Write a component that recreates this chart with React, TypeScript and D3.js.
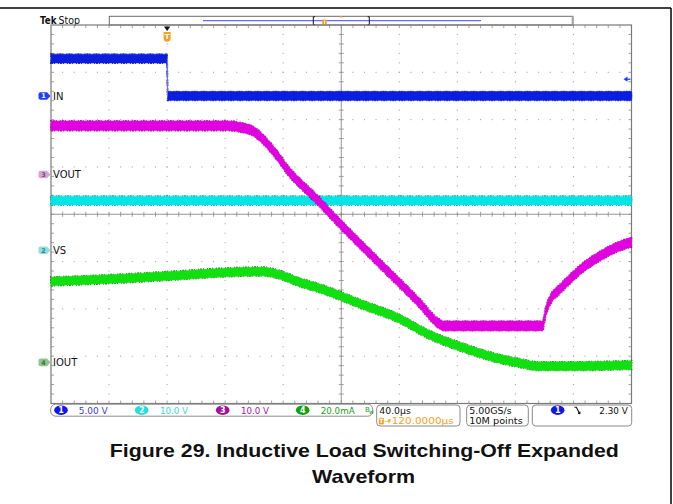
import React from 'react';
import * as d3 from 'd3';

const W = 673;
const H = 504;

// ---------- Axis / channel setup ----------
const timeDomainUs = [-80, 320]; // 40 µs/div, trigger at 0
const divDomain = [-4, 4];
const channelIds = ['1', '2', '3', '4'];
const channelLabels = ['IN', 'VS', 'VOUT', 'IOUT'];
const channelPerDiv = [5, 10, 10, 20];
const channelOffsetDiv = [2.5, -0.76, 0.84, -3.13];
const channelScaleText = ['5.00 V', '10.0 V', '10.0 V', '20.0mA'];
const triggerMarkerLevel = 1.77; // CH1 volts where the right-hand level arrow sits

// ---------- Waveform data ----------
// CH1 IN (V)
const inTime = [-80, 0, 0.4, 320];
const inVolts = [3.95, 3.95, 0, 0];
// CH2 VS (V)
const vsTime = [-80, 320];
const vsVolts = [10.5, 10.5];
// CH3 VOUT (V)
const voutTime = [-80, 42, 51.5, 59.1, 65.3, 75.6, 84.5, 91.4, 103.1, 114.1, 146.5, 174.0, 186.4, 190.6, 258.7, 260.8, 264.2, 270.4, 277.3, 287.6, 298.0, 308.3, 320];
const voutVolts = [10.3, 10.3, 9.9, 9.2, 7.7, 4.1, 0.4, -1.8, -5.2, -8.8, -18.8, -27.2, -31.3, -32.0, -32.0, -29.1, -26.4, -24.3, -22.2, -19.4, -17.3, -15.6, -14.3];
// CH4 IOUT (mA)
const ioutTime = [-80, -46.3, 0, 39.8, 65.3, 77.7, 91.4, 103.1, 112.1, 134.8, 158.2, 180.9, 203.6, 227.1, 246.3, 254.6, 284.2, 320];
const ioutMA = [34.2, 35.0, 36.5, 38.0, 38.4, 37.0, 33.8, 31.7, 29.8, 24.3, 19.0, 11.6, 6.3, 1.8, -0.7, -1.6, -1.6, -1.1];

// ---------- Status text ----------
const timebaseText = '40.0µs';
const triggerDelayText = '120.0000µs';
const sampleRateText = '5.00GS/s';
const recordText = '10M points';
const triggerLevelText = '2.30 V';
const captionLine1 = 'Figure 29. Inductive Load Switching-Off Expanded';
const captionLine2 = 'Waveform';

// ---------- Styles ----------
const traceColors = ['#0b1ee0', '#00e6e6', '#e000e0', '#10e010'];
const edgeColors = ['#000060', '#005050', '#500050', '#003a00'];
const markerFills = ['#2040f0', '#8fe0e0', '#d7a6d7', '#8fc88f'];
const markerText = ['#ffffff', '#3a8080', '#705070', '#4a704a'];
const badgeFills = ['#1018e8', '#20dede', '#a010a0', '#10a010'];
const scaleTextColors = ['#3a3ae6', '#30d8d8', '#a810a8', '#18a018'];
const orange = '#f5a01e';
const FONT = '"DejaVu Sans", sans-serif';

const L = 51, R = 631.5, T = 25, B = 403.5;
const x = d3.scaleLinear().domain(timeDomainUs).range([L, R]);
const yDiv = d3.scaleLinear().domain(divDomain).range([B, T]);
const yCh = (ch: number, v: number) => yDiv(channelOffsetDiv[ch] + v / channelPerDiv[ch]);

function bandPath(ch: number, times: number[], vals: number[], half: number, smooth: boolean) {
  const gen = d3
    .area<number>()
    .x((_, i) => x(times[i]))
    .y0((v) => yCh(ch, v) - half)
    .y1((v) => yCh(ch, v) + half)
    .curve(smooth ? d3.curveMonotoneX : d3.curveLinear);
  return gen(vals) || '';
}

function Trace({ ch, times, vals, half, smooth }: { ch: number; times: number[]; vals: number[]; half: number; smooth: boolean }) {
  const d = bandPath(ch, times, vals, half, smooth);
  return (
    <g>
      <path d={d} fill="none" stroke={edgeColors[ch]} strokeWidth={1.8} strokeDasharray="2 1 1 3 1 1" opacity={0.75} />
      <path d={d} fill={traceColors[ch]} stroke={traceColors[ch]} strokeWidth={0.6} />
    </g>
  );
}

function ChannelMarker({ ch, y }: { ch: number; y: number }) {
  const x0 = 38.5;
  const p = `M${x0 + 2},${y - 3.8} H${x0 + 8.5} L${x0 + 12},${y} L${x0 + 8.5},${y + 3.8} H${x0 + 2} Q${x0},${y + 3.8} ${x0},${y + 1.8} V${y - 1.8} Q${x0},${y - 3.8} ${x0 + 2},${y - 3.8} Z`;
  return (
    <g>
      <path d={p} fill={markerFills[ch]} />
      <text x={x0 + 5} y={y + 2.4} fontSize={6.5} fontFamily={FONT} fill={markerText[ch]} textAnchor="middle" fontWeight="bold">
        {channelIds[ch]}
      </text>
      <text x={53} y={y + 3.6} fontSize={10} fontFamily={FONT} fill="#111">
        {channelLabels[ch]}
      </text>
    </g>
  );
}

export default function App() {
  const majorX = d3.range(0, 11).map((k) => timeDomainUs[0] + 40 * k);
  const majorY = d3.range(-4, 5);
  const minorX = d3.range(0, 51).map((k) => timeDomainUs[0] + 8 * k);
  const minorY = d3.range(0, 41).map((k) => -4 + 0.2 * k);
  const cx = x(120);
  const cy = yDiv(0);

  const dots: JSX.Element[] = [];
  majorX.slice(1, -1).forEach((t, i) => {
    if (t === 120) return;
    minorY.slice(1, -1).forEach((dv, j) => {
      dots.push(<rect key={`vx${i}-${j}`} x={x(t) - 0.55} y={yDiv(dv) - 0.55} width={1.1} height={1.1} fill="#a8a8a8" />);
    });
  });
  majorY.slice(1, -1).forEach((dv, i) => {
    if (dv === 0) return;
    minorX.slice(1, -1).forEach((t, j) => {
      dots.push(<rect key={`hy${i}-${j}`} x={x(t) - 0.55} y={yDiv(dv) - 0.55} width={1.1} height={1.1} fill="#a8a8a8" />);
    });
  });

  const ticks: JSX.Element[] = [];
  minorX.slice(1, -1).forEach((t, j) => {
    const xx = x(t);
    ticks.push(<line key={`tt${j}`} x1={xx} x2={xx} y1={T} y2={T + 3} />);
    ticks.push(<line key={`tb${j}`} x1={xx} x2={xx} y1={B - 3} y2={B} />);
    ticks.push(<line key={`tc${j}`} x1={xx} x2={xx} y1={cy - 2.5} y2={cy + 2.5} />);
  });
  minorY.slice(1, -1).forEach((dv, j) => {
    const yy = yDiv(dv);
    ticks.push(<line key={`tl${j}`} x1={L} x2={L + 3} y1={yy} y2={yy} />);
    ticks.push(<line key={`tr${j}`} x1={R - 3} x2={R} y1={yy} y2={yy} />);
    ticks.push(<line key={`tm${j}`} x1={cx - 2.5} x2={cx + 2.5} y1={yy} y2={yy} />);
  });

  const badgeX = [61, 141.7, 222.7, 302.7];
  const scaleTextX = [78.7, 160, 241, 320.7];
  const scaleTextW = [29, 28, 28, 34];
  const trigY = yCh(0, triggerMarkerLevel);

  return (
    <svg width={W} height={H} style={{ position: 'absolute', left: 0, top: 0, background: '#fff' }}>
      {/* page frame */}
      <line x1={0} x2={671} y1={8} y2={8} stroke="#000" strokeWidth={1.5} />
      <line x1={671} x2={671} y1={8} y2={H} stroke="#000" strokeWidth={1.5} />

      {/* top bar */}
      <text x={40} y={23.5} fontSize={10.5} fontFamily={FONT} fontWeight="bold" fill="#111" textLength={16.5} lengthAdjust="spacingAndGlyphs">Tek</text>
      <text x={58.5} y={23.5} fontSize={10} fontFamily={FONT} fill="#111" textLength={21.5} lengthAdjust="spacingAndGlyphs">Stop</text>
      <rect x={109.3} y={16.3} width={463.4} height={8.7} fill="#fff" stroke="#6a6a6a" strokeWidth={1} />
      <line x1={572.7} x2={572.7} y1={16} y2={25} stroke="#a0a0a0" strokeWidth={2} />
      <line x1={203} x2={481} y1={20.6} y2={20.6} stroke="#6a6aff" strokeWidth={1.3} />
      <path d="M315,16.8 H313.3 V24.6 H315 M367.6,16.8 H369.3 V24.6 H367.6" fill="none" stroke="#111" strokeWidth={1} />
      <rect x={322.3} y={19.5} width={4.4} height={5.2} fill={orange} />
      <line x1={324.5} x2={324.5} y1={20.5} y2={24.7} stroke="#fff" strokeWidth={0.8} />
      <path d="M339.5,16.3 L342.5,16.3 L341,18.3 Z" fill={orange} />

      {/* graticule */}
      <g>{dots}</g>
      <g stroke="#8a8a8a" strokeWidth={0.8}>{ticks}</g>
      <line x1={L} x2={R} y1={cy} y2={cy} stroke="#8a8a8a" strokeWidth={0.9} />
      <line x1={cx} x2={cx} y1={T} y2={B} stroke="#8a8a8a" strokeWidth={0.9} />
      <rect x={L} y={T} width={R - L} height={B - T} fill="none" stroke="#7a7a7a" strokeWidth={1.2} />

      {/* trigger marker */}
      <path d={`M${x(0) - 3.2},26.5 L${x(0) + 3.2},26.5 L${x(0)},31 Z`} fill="#111" />
      <path d={`M${x(0) - 3.5},32 H${x(0) + 3.5} V38 Q${x(0) + 3.5},41.8 ${x(0)},41.8 Q${x(0) - 3.5},41.8 ${x(0) - 3.5},38 Z`} fill={orange} />
      <text x={x(0)} y={39.3} fontSize={7} fontFamily={FONT} fontWeight="bold" fill="#fff" textAnchor="middle">T</text>

      {/* trigger level arrow */}
      <path d={`M623.5,${trigY} L627.5,${trigY - 2.6} L627.5,${trigY + 2.6} Z`} fill="#2040f0" />
      <line x1={626} x2={630.5} y1={trigY} y2={trigY} stroke="#2040f0" strokeWidth={1.3} />

      {/* traces */}
      <Trace ch={0} times={inTime} vals={inVolts} half={4.4} smooth={false} />
      <line x1={x(0.2)} x2={x(0.2)} y1={yCh(0, inVolts[1])} y2={yCh(0, inVolts[2])} stroke="#7080e0" strokeWidth={1} />
      <Trace ch={1} times={vsTime} vals={vsVolts} half={4.4} smooth={false} />
      <Trace ch={2} times={voutTime} vals={voutVolts} half={4.8} smooth={true} />
      <Trace ch={3} times={ioutTime} vals={ioutMA} half={4.3} smooth={true} />

      {/* channel ground markers */}
      {channelIds.map((_, ch) => (
        <ChannelMarker key={ch} ch={ch} y={yCh(ch, 0)} />
      ))}

      {/* status bar: channel scales */}
      <rect x={50.7} y={404.2} width={322} height={12} rx={5} fill="#fff" stroke="#8a8a8a" strokeWidth={1} />
      {channelIds.map((id, ch) => (
        <g key={id}>
          <ellipse cx={badgeX[ch]} cy={410.2} rx={6.8} ry={4.8} fill={badgeFills[ch]} />
          <text x={badgeX[ch]} y={413} fontSize={8} fontFamily={FONT} fontWeight="bold" fill="#fff" textAnchor="middle">{id}</text>
          <text x={scaleTextX[ch]} y={413.5} fontSize={9.5} fontFamily={FONT} fill={scaleTextColors[ch]} textLength={scaleTextW[ch]} lengthAdjust="spacingAndGlyphs">{channelScaleText[ch]}</text>
        </g>
      ))}
      <text x={365} y={412} fontSize={7} fontFamily={FONT} fill="#18a018">B</text>
      <text x={369} y={414} fontSize={6} fontFamily={FONT} fill="#18a018">w</text>

      {/* timebase box */}
      <rect x={376.7} y={405} width={83.3} height={21} rx={3.5} fill="#fff" stroke="#8a8a8a" strokeWidth={1} />
      <text x={379.3} y={413.8} fontSize={9.5} fontFamily={FONT} fill="#111" textLength={31.5} lengthAdjust="spacingAndGlyphs">{timebaseText}</text>
      <rect x={378.8} y={417.8} width={5} height={6.6} fill={orange} />
      <text x={381.3} y={423.4} fontSize={6} fontFamily={FONT} fontWeight="bold" fill="#fff" textAnchor="middle">T</text>
      <text x={384} y={424} fontSize={8} fontFamily={FONT} fill={orange}>→</text>
      <path d="M387.8,419.2 L391.2,419.2 L389.5,422 Z" fill={orange} />
      <text x={391.7} y={424.3} fontSize={9.5} fontFamily={FONT} fill={orange} textLength={62} lengthAdjust="spacingAndGlyphs">{triggerDelayText}</text>

      {/* acquisition box */}
      <rect x={466.7} y={405} width={61.6} height={21} rx={3.5} fill="#fff" stroke="#8a8a8a" strokeWidth={1} />
      <text x={469.3} y={413.8} fontSize={9.5} fontFamily={FONT} fill="#111" textLength={42.4} lengthAdjust="spacingAndGlyphs">{sampleRateText}</text>
      <text x={469.3} y={424.3} fontSize={9.5} fontFamily={FONT} fill="#111" textLength={53.4} lengthAdjust="spacingAndGlyphs">{recordText}</text>

      {/* trigger box */}
      <rect x={532.3} y={405} width={99.4} height={21} rx={3.5} fill="#fff" stroke="#8a8a8a" strokeWidth={1} />
      <ellipse cx={557.7} cy={410.2} rx={6.8} ry={4.8} fill={badgeFills[0]} />
      <text x={557.7} y={413} fontSize={8} fontFamily={FONT} fontWeight="bold" fill="#fff" textAnchor="middle">1</text>
      <path d="M574.5,407.2 H576.3 L579.6,413.4 M578.1,413.4 L579.8,413.6 L580,411.6" fill="none" stroke="#111" strokeWidth={1.1} />
      <text x={627.7} y={413.8} fontSize={9.5} fontFamily={FONT} fill="#111" textAnchor="end" textLength={28.4} lengthAdjust="spacingAndGlyphs">{triggerLevelText}</text>

      {/* caption */}
      <text x={364.3} y={456.8} fontSize={18.5} fontFamily='"Liberation Sans", Arial, sans-serif' fontWeight="bold" fill="#111" textAnchor="middle" textLength={509} lengthAdjust="spacingAndGlyphs">{captionLine1}</text>
      <text x={363.6} y={483} fontSize={18.5} fontFamily='"Liberation Sans", Arial, sans-serif' fontWeight="bold" fill="#111" textAnchor="middle" textLength={103} lengthAdjust="spacingAndGlyphs">{captionLine2}</text>
    </svg>
  );
}
